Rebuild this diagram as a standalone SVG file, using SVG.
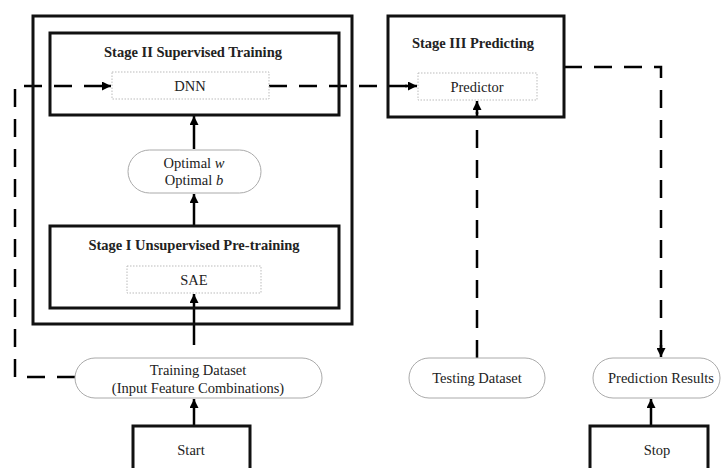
<svg xmlns="http://www.w3.org/2000/svg" width="721" height="468" viewBox="0 0 721 468">
<defs>
<marker id="ah" viewBox="0 0 10 10" refX="10" refY="5" markerWidth="9" markerHeight="9" markerUnits="userSpaceOnUse" orient="auto">
<path d="M0,0 L10,5 L0,10 z" fill="#000"/>
</marker>
<style>
.box{fill:none;stroke:#111;stroke-width:3}
.inner{fill:#fff;stroke:#bbb;stroke-width:1;stroke-dasharray:1.5 1.5}
.pill{fill:#fff;stroke:#aaa;stroke-width:1}
.t{font-family:"Liberation Serif","Times New Roman",serif;font-size:14.5px;fill:#222;text-anchor:middle}
.b{font-weight:bold}
.solid{fill:none;stroke:#000;stroke-width:2.5}
.dash{fill:none;stroke:#000;stroke-width:2.5;stroke-dasharray:18 12}
</style>
</defs>
<rect width="721" height="468" fill="#fff"/>
<g id="connectors">
<polyline class="dash" points="75,377 15,377 15,86 104,86"/>
<line class="solid" x1="104" y1="86" x2="111" y2="86" marker-end="url(#ah)"/>
<line class="dash" x1="269" y1="86" x2="410" y2="86"/>
<line class="solid" x1="405" y1="86" x2="417" y2="86" marker-end="url(#ah)"/>
<polyline class="dash" points="564,67 661,67 661,348"/>
<line class="solid" x1="661" y1="345" x2="661" y2="357" marker-end="url(#ah)"/>
<line class="dash" x1="477" y1="358" x2="477" y2="112"/>
<line class="solid" x1="477" y1="114" x2="477" y2="101" marker-end="url(#ah)"/>
<line class="solid" x1="194" y1="149" x2="194" y2="116" marker-end="url(#ah)"/>
<line class="solid" x1="194" y1="226" x2="194" y2="194" marker-end="url(#ah)"/>
<line class="solid" x1="194" y1="345" x2="194" y2="294" marker-end="url(#ah)"/>
<line class="solid" x1="194" y1="426" x2="194" y2="399" marker-end="url(#ah)"/>
<line class="solid" x1="651" y1="426" x2="651" y2="399" marker-end="url(#ah)"/>
</g>
<g id="outer"><rect class="box" x="33" y="16" width="319" height="308"/></g>
<g id="stage2">
<rect class="box" x="50" y="33" width="289" height="82"/>
<text class="t b" x="193" y="57">Stage II Supervised Training</text>
</g>
<g id="dnn">
<rect class="inner" x="112" y="72" width="157" height="27"/>
<text class="t" x="190" y="91">DNN</text>
</g>
<g id="optimal">
<rect class="pill" x="128" y="150" width="133" height="43" rx="21.5"/>
<text class="t" x="194" y="168">Optimal <tspan font-style="italic">w</tspan></text>
<text class="t" x="194" y="185">Optimal <tspan font-style="italic">b</tspan></text>
</g>
<g id="stage1">
<rect class="box" x="50" y="226" width="289" height="82"/>
<text class="t b" x="194" y="250">Stage I Unsupervised Pre-training</text>
</g>
<g id="sae">
<rect class="inner" x="127" y="266" width="134" height="27"/>
<text class="t" x="194" y="285">SAE</text>
</g>
<g id="training">
<rect class="pill" x="75" y="358" width="247" height="40" rx="20"/>
<text class="t" x="198" y="375">Training Dataset</text>
<text class="t" x="198" y="393">(Input Feature Combinations)</text>
</g>
<g id="start">
<rect class="box" x="133" y="426" width="117" height="50"/>
<text class="t" x="191" y="455">Start</text>
</g>
<g id="stage3">
<rect class="box" x="388" y="16" width="176" height="101"/>
<text class="t b" x="473" y="48">Stage III Predicting</text>
</g>
<g id="predictor">
<rect class="inner" x="418" y="73" width="119" height="27"/>
<text class="t" x="477" y="92">Predictor</text>
</g>
<g id="testing">
<rect class="pill" x="409" y="358" width="136" height="40" rx="20"/>
<text class="t" x="477" y="383">Testing Dataset</text>
</g>
<g id="results">
<rect class="pill" x="593" y="358" width="127" height="40" rx="20"/>
<text class="t" x="661" y="383">Prediction Results</text>
</g>
<g id="stop">
<rect class="box" x="590" y="426" width="118" height="50"/>
<text class="t" x="657" y="455">Stop</text>
</g>
</svg>
